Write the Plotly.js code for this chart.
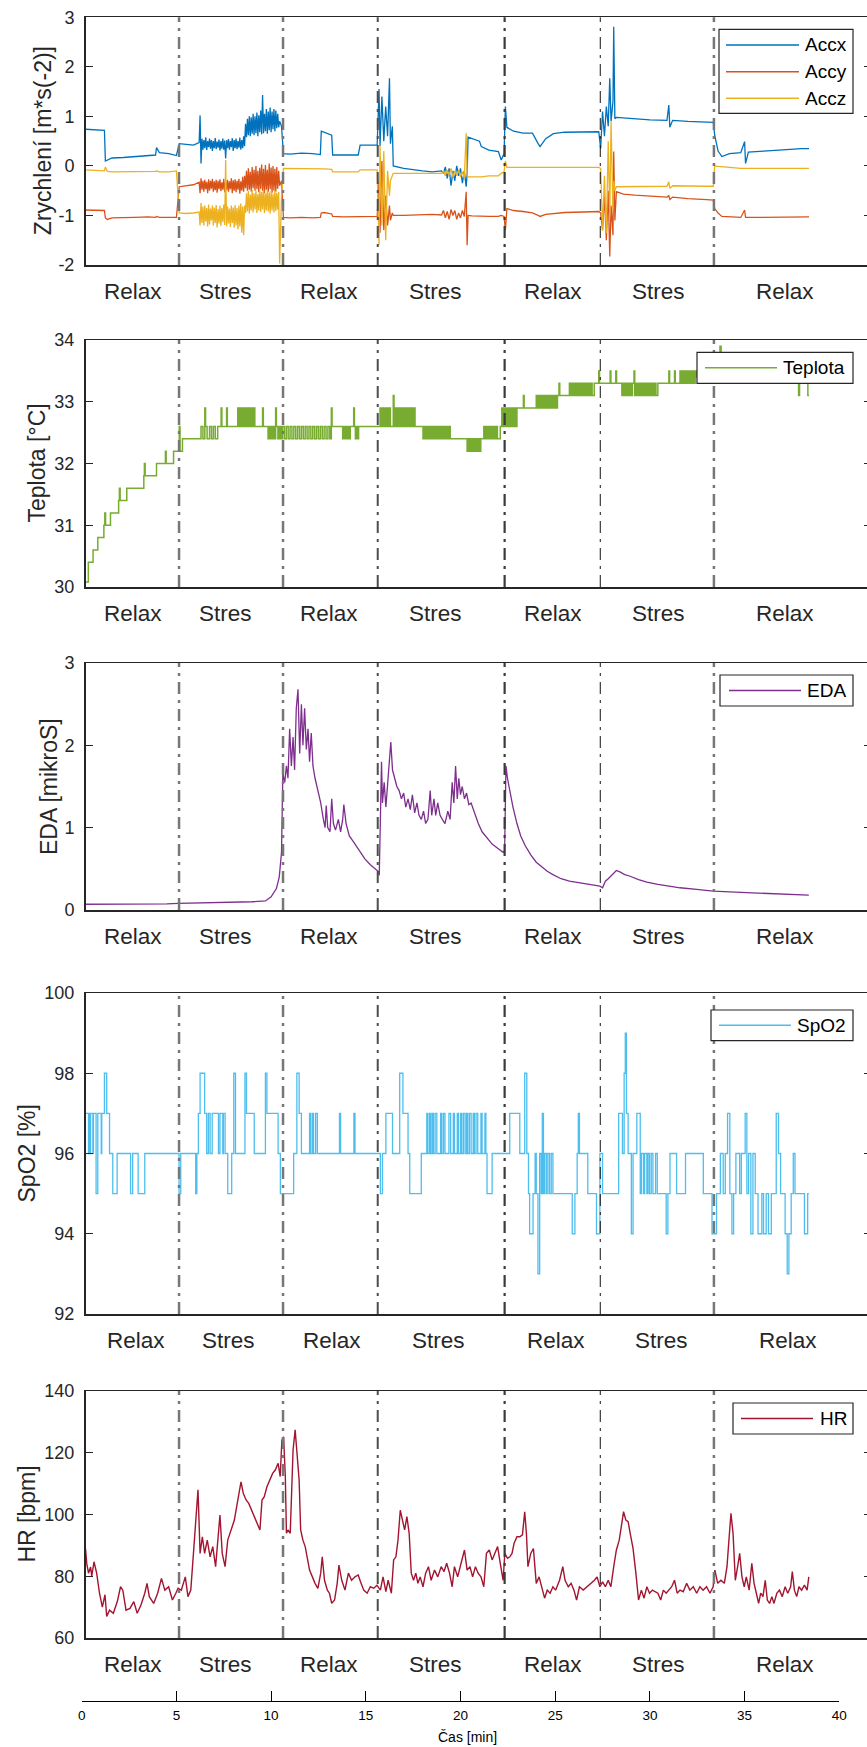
<!DOCTYPE html>
<html>
<head>
<meta charset="utf-8">
<script src="https://cdn.plot.ly/plotly-3.0.1.min.js"></script>
<style>
  html, body { margin: 0; padding: 0; background: #fff; overflow: hidden; }
  #chart { width: 872px; height: 1747px; }
</style>
</head>
<body>
<div id="chart"></div>
<script>
// ---- phase boundaries and labels (minutes) ----
const phaseLines = [5.14, 10.63, 15.63, 22.33, 27.38, 33.38];
const phaseNames = ['Relax', 'Stres', 'Relax', 'Stres', 'Relax', 'Stres', 'Relax'];
const phaseCenters = [2.72, 7.6, 13.08, 18.66, 24.9, 30.48, 37.14];

// ---- tick values ----
const accTicks = [-2, -1, 0, 1, 2, 3];
const tempTicks = [30, 31, 32, 33, 34];
const edaTicks = [0, 1, 2, 3];
const spo2Ticks = [92, 94, 96, 98, 100];
const hrTicks = [60, 80, 100, 120, 140];
const timeTicks = [0, 5, 10, 15, 20, 25, 30, 35, 40];

// ---- acceleration [m*s^-2] ----
const accT = [
  0.2, 0.6, 1.2, 1.25, 1.35, 1.6, 2.2, 2.8, 3.5, 3.9, 3.95, 4.1, 4.6, 5.0,
  5.15, 5.5, 5.9, 6.2, 6.25,
  6.30, 6.35, 6.40, 6.45, 6.50, 6.55, 6.60, 6.65, 6.70, 6.75,
  6.80, 6.85, 6.90, 6.95, 7.00, 7.05, 7.10, 7.15, 7.20, 7.25,
  7.30, 7.35, 7.40, 7.45, 7.50, 7.55, 7.60, 7.65, 7.70, 7.75,
  7.80, 7.85, 7.90, 7.95, 8.00, 8.05, 8.10, 8.15, 8.20, 8.25,
  8.30, 8.35, 8.40, 8.45, 8.50, 8.55, 8.60, 8.65, 8.70, 8.75,
  8.80, 8.85, 8.90, 8.95, 9.00, 9.05, 9.10, 9.15, 9.20, 9.25,
  9.30, 9.35, 9.40, 9.45, 9.50, 9.55, 9.60, 9.65, 9.70, 9.75,
  9.80, 9.85, 9.90, 9.95, 10.00, 10.05, 10.10, 10.15, 10.20, 10.25,
  10.30, 10.35, 10.40,
  10.45, 10.55,
  10.65, 11.0, 11.6, 12.2, 12.6, 12.65, 12.8, 13.2, 13.25, 13.8, 14.6, 14.7, 15.2, 15.6,
  15.7, 15.75, 15.85, 15.95, 16.05, 16.15, 16.25, 16.3, 16.4, 16.45, 17.0, 17.5, 18.0, 18.5, 19.0,
  19.1, 19.2, 19.3, 19.4, 19.5, 19.6, 19.7, 19.8, 19.9, 20.0, 20.1, 20.2, 20.3,
  20.35, 20.4, 20.6, 21.0, 21.1, 21.5, 22.0, 22.15, 22.3, 22.37,
  22.45, 22.8, 23.3, 23.8, 24.1, 24.2, 24.5, 24.9, 25.5, 26.5, 27.3,
  27.4, 27.5, 27.6, 27.7, 27.8, 27.88, 27.95, 28.05, 28.09, 28.15, 28.23, 28.6, 29.2, 30.0, 30.9, 31.0, 31.05, 31.2, 32.0, 33.0, 33.35,
  33.42, 33.6, 33.8, 34.2, 34.8, 35.0, 35.05, 35.2, 36.0, 37.0, 38.0, 38.4
];
const accX = [
  0.74, 0.73, 0.72, 0.10, 0.12, 0.16, 0.17, 0.19, 0.20, 0.22, 0.37, 0.27, 0.25, 0.21,
  0.45, 0.44, 0.42, 0.47, 1.02,
  0.05, 0.55, 0.33, 0.52, 0.36, 0.58, 0.32, 0.50, 0.38, 0.55,
  0.35, 0.52, 0.30, 0.50, 0.36, 0.56, 0.34, 0.49, 0.37, 0.53,
  0.31, 0.50, 0.35, 0.55, 0.33, 0.51, 0.15, 0.52, 0.36, 0.54,
  0.33, 0.50, 0.38, 0.56, 0.30, 0.52, 0.36, 0.55, 0.34, 0.50,
  0.37, 0.57, 0.33, 0.52, 0.36, 0.60, 0.40, 0.85, 0.58, 0.95,
  0.62, 1.00, 0.60, 0.98, 0.65, 1.05, 0.62, 1.00, 0.66, 1.08,
  0.60, 1.02, 0.68, 1.12, 0.64, 1.43, 0.66, 1.05, 0.70, 1.15,
  0.65, 1.10, 0.72, 1.18, 0.68, 1.10, 0.74, 1.15, 0.70, 1.12,
  0.76, 1.05, 0.78,
  0.90, 0.80,
  0.25, 0.24, 0.26, 0.25, 0.23, 0.70, 0.68, 0.62, 0.22, 0.22, 0.22, 0.42, 0.42, 0.42,
  1.55, 0.40, 1.40, 0.50, 1.20, 0.60, 1.77, 0.45, 0.80, 0.00, -0.05, -0.08, -0.10, -0.12, -0.10,
  -0.15, -0.02, -0.25, -0.05, -0.40, -0.10, -0.30, 0.00, -0.20, -0.05, -0.35, -0.10, -0.42,
  -0.15, 0.58, 0.55, 0.50, 0.39, 0.32, 0.29, 0.12, 0.25, 1.20,
  0.78, 0.70, 0.66, 0.66, 0.45, 0.39, 0.55, 0.65, 0.68, 0.69, 0.69,
  0.35, 1.10, 0.60, 1.20, 0.80, 1.77, 0.90, 1.30, 2.81, 0.95, 0.98, 0.97, 0.95, 0.93, 0.92, 1.23, 0.78, 0.92, 0.90, 0.88, 0.88,
  0.62, 0.30, 0.19, 0.25, 0.27, 0.49, 0.05, 0.28, 0.30, 0.33, 0.35, 0.35
];
const accY = [
  -0.89, -0.89, -0.90, -1.05, -1.08, -1.05, -1.05, -1.04, -1.03, -1.04, -1.02, -1.04, -1.04, -1.04,
  -0.42, -0.40, -0.38, -0.33, -0.55,
  -0.25, -0.48, -0.30, -0.52, -0.28, -0.47, -0.32, -0.55, -0.27, -0.50,
  -0.30, -0.46, -0.26, -0.52, -0.31, -0.49, -0.28, -0.54, -0.30, -0.47,
  -0.27, -0.51, -0.33, -0.48, -0.26, -0.53, -0.30, -0.49, -0.28, -0.52,
  -0.31, -0.47, -0.25, -0.55, -0.29, -0.50, -0.27, -0.53, -0.30, -0.48,
  -0.26, -0.56, -0.31, -0.50, -0.22, -0.52, -0.20, -0.45, -0.10, -0.50,
  -0.05, -0.48, -0.12, -0.52, -0.02, -0.45, -0.08, -0.50, 0.00, -0.47,
  -0.10, -0.53, -0.04, -0.46, 0.03, -0.50, -0.06, -0.55, 0.02, -0.48,
  -0.08, -0.52, 0.05, -0.47, -0.03, -0.54, 0.00, -0.50, -0.06, -0.52,
  -0.02, -0.46, -0.10,
  -0.40, -0.30,
  -1.04, -1.05, -1.04, -1.05, -1.04, -0.95, -0.94, -0.97, -1.02, -1.03, -1.03, -1.02, -1.02, -1.02,
  -0.30, -1.35, 0.10, -1.30, -0.60, -1.20, -0.80, -1.10, -0.95, -1.00, -1.00, -0.99, -0.99, -0.98, -0.99,
  -0.90, -1.05, -0.92, -1.08, -0.88, -1.00, -0.90, -1.08, -0.95, -1.05, -0.90, -1.02, -0.52,
  -1.60, -1.00, -1.01, -1.02, -1.02, -1.02, -1.02, -1.00, -1.02, -1.30,
  -0.86, -0.90, -0.92, -0.95, -1.00, -1.02, -0.98, -0.96, -0.94, -0.93, -0.92,
  -0.95, -1.30, -0.60, -1.50, -0.50, -1.83, -0.80, -1.40, 0.29, -1.10, -0.52, -0.57, -0.59, -0.61, -0.63, -0.60, -0.68, -0.63, -0.66, -0.68, -0.69,
  -0.86, -0.95, -1.02, -1.03, -1.04, -0.89, -1.04, -1.04, -1.04, -1.03, -1.03, -1.03
];
const accZ = [
  -0.08, -0.09, -0.10, -0.02, -0.11, -0.12, -0.12, -0.12, -0.12, -0.11, -0.10, -0.12, -0.12, -0.10,
  -0.95, -0.96, -0.95, -0.93, -1.20,
  -0.75, -1.15, -0.82, -1.20, -0.80, -1.12, -0.85, -1.22, -0.78, -1.18,
  -0.86, -1.10, -0.80, -1.20, -0.84, -1.15, -0.79, -1.24, -0.87, -1.16,
  -0.80, -1.21, -0.85, -1.13, -0.78, -1.19, 0.12, -1.22, -0.82, -1.16,
  -0.86, -1.23, -0.80, -1.15, -0.84, -1.25, -0.79, -1.20, -0.85, -1.28,
  -0.80, -1.22, -0.76, -1.35, -0.82, -1.40, -0.80, -0.95, -0.55, -0.92,
  -0.50, -0.96, -0.58, -0.90, -0.48, -0.94, -0.55, -0.88, -0.50, -0.95,
  -0.57, -0.90, -0.46, -0.93, -0.52, -0.88, -0.48, -0.95, -0.55, -0.90,
  -0.47, -0.92, -0.53, -0.96, -0.50, -0.90, -0.56, -0.94, -0.49, -0.91,
  -0.54, -0.88, -0.52,
  -1.97, -0.60,
  -0.05, -0.05, -0.06, -0.05, -0.05, -0.05, -0.06, -0.07, -0.12, -0.12, -0.12, -0.08, -0.08, -0.08,
  -1.60, 0.40, -1.20, 0.30, -1.50, -0.10, -0.60, -0.30, -0.20, -0.15, -0.15, -0.15, -0.16, -0.16, -0.15,
  -0.10, -0.20, -0.08, -0.18, -0.05, -0.22, -0.10, -0.20, -0.08, -0.22, -0.12, -0.25, 0.66,
  -0.20, -0.22, -0.22, -0.22, -0.22, -0.20, -0.20, -0.15, -0.12, 0.10,
  -0.03, -0.03, -0.03, -0.03, -0.03, -0.04, -0.03, -0.03, -0.03, -0.03, -0.03,
  -0.05, -1.30, -0.20, -1.36, 0.50, -1.00, 0.89, -0.90, -0.30, -0.50, -0.42, -0.42, -0.42, -0.42, -0.41, -0.32, -0.45, -0.40, -0.41, -0.41, -0.41,
  0.00, -0.01, -0.02, -0.03, -0.05, -0.05, -0.05, -0.05, -0.05, -0.05, -0.05, -0.05
];

// ---- skin temperature [°C] (stepped sensor readings) ----
const tempT = [
  0.20, 0.35, 0.60, 0.85, 1.17, 1.22, 1.26, 1.52, 1.95, 1.99, 2.03, 2.38, 3.28, 3.31, 3.35, 3.95, 4.42, 4.46, 4.85, 5.15, 5.19, 5.32,
  6.30, 6.40, 6.50, 6.54, 6.62, 6.75, 6.85, 6.95, 7.05, 7.18, 7.36, 7.40, 7.65, 7.69,
  8.24, 8.30, 8.36, 8.42, 8.48, 8.54, 8.60, 8.66, 8.72, 8.78, 8.84, 8.90, 8.96, 9.02, 9.08, 9.14, 9.55, 9.59,
  9.84, 9.92, 10.00, 10.08, 10.16, 10.24, 10.28, 10.36, 10.44, 10.52,
  10.60, 10.70, 10.80, 10.90, 11.00, 11.10, 11.20, 11.30, 11.40, 11.50, 11.60, 11.70, 11.80, 11.90, 12.00, 12.10,
  12.20, 12.30, 12.40, 12.50, 12.60, 12.70, 12.80, 12.90, 13.00, 13.10, 13.18, 13.22,
  13.78, 13.86, 13.94, 14.02, 14.10, 14.18, 14.36, 14.40, 14.45, 14.53, 14.60, 14.62,
  15.75, 15.82, 15.90, 15.98, 16.06, 16.14, 16.22, 16.30, 16.45, 16.49, 16.56, 16.64,
  16.72, 16.80, 16.88, 16.96, 17.04, 17.12, 17.20, 17.28, 17.36, 17.44, 17.52, 17.60,
  18.02, 18.10, 18.18, 18.26, 18.34, 18.42, 18.50, 18.58, 18.66, 18.74, 18.82, 18.90, 18.98, 19.06, 19.14, 19.22, 19.30, 19.38, 19.46,
  20.35, 20.43, 20.51, 20.59, 20.67, 20.75, 20.83, 20.91, 20.99, 21.07,
  21.23, 21.31, 21.39, 21.47, 21.55, 21.63, 21.71, 21.79, 21.87, 21.95,
  22.10, 22.18, 22.26, 22.34, 22.42, 22.50, 22.58, 22.66, 22.74, 22.82, 22.90, 22.98,
  23.32, 23.36, 24.00, 24.08, 24.16, 24.24, 24.32, 24.40, 24.48, 24.56, 24.64, 24.72, 24.80, 24.88, 24.96, 25.04, 25.12, 25.20, 25.24,
  25.75, 25.83, 25.91, 25.99, 26.07, 26.15, 26.23, 26.31, 26.39, 26.47, 26.55, 26.63, 26.71, 26.79, 26.87, 26.95, 27.06,
  27.30, 27.34, 27.90, 27.94, 28.20, 28.24,
  28.52, 28.60, 28.68, 28.76, 28.84, 28.92, 29.00, 29.08, 29.16, 29.20, 29.28, 29.36, 29.44,
  29.52, 29.60, 29.68, 29.76, 29.84, 29.92, 30.00, 30.08, 30.16, 30.24, 30.32, 30.42,
  31.00, 31.04, 31.30, 31.34,
  31.59, 31.67, 31.75, 31.83, 31.91, 31.99, 32.07, 32.15, 32.23, 32.31, 32.39, 32.47,
  33.70, 33.76, 37.85, 37.90, 38.34, 38.40
];
const tempV = [
  30.08, 30.40, 30.60, 30.80, 31.00, 31.20, 31.00, 31.20, 31.40, 31.60, 31.40, 31.60, 31.80, 32.00, 31.80, 32.00, 32.20, 32.00, 32.20, 32.60, 32.20, 32.40,
  32.60, 32.40, 32.90, 32.60, 32.40, 32.60, 32.40, 32.60, 32.40, 32.60, 32.90, 32.60, 32.90, 32.60,
  32.90, 32.60, 32.90, 32.60, 32.90, 32.60, 32.90, 32.60, 32.90, 32.60, 32.90, 32.60, 32.90, 32.60, 32.90, 32.60, 32.90, 32.60,
  32.40, 32.60, 32.40, 32.60, 32.40, 32.90, 32.60, 32.40, 32.60, 32.40,
  32.60, 32.40, 32.60, 32.40, 32.60, 32.40, 32.60, 32.40, 32.60, 32.40, 32.60, 32.40, 32.60, 32.40, 32.60, 32.40,
  32.60, 32.40, 32.60, 32.40, 32.60, 32.40, 32.60, 32.40, 32.60, 32.40, 32.90, 32.60,
  32.40, 32.60, 32.40, 32.60, 32.40, 32.60, 32.90, 32.60, 32.40, 32.60, 32.40, 32.60,
  32.90, 32.60, 32.90, 32.60, 32.90, 32.60, 32.90, 32.60, 33.10, 32.60, 32.90, 32.60,
  32.90, 32.60, 32.90, 32.60, 32.90, 32.60, 32.90, 32.60, 32.90, 32.60, 32.90, 32.60,
  32.40, 32.60, 32.40, 32.60, 32.40, 32.60, 32.40, 32.60, 32.40, 32.60, 32.40, 32.60, 32.40, 32.60, 32.40, 32.60, 32.40, 32.60, 32.40,
  32.20, 32.40, 32.20, 32.40, 32.20, 32.40, 32.20, 32.40, 32.20, 32.40,
  32.60, 32.40, 32.60, 32.40, 32.60, 32.40, 32.60, 32.40, 32.60, 32.40,
  32.60, 32.90, 32.60, 32.90, 32.60, 32.90, 32.60, 32.90, 32.60, 32.90, 32.60, 32.90,
  33.10, 32.90, 33.10, 32.90, 33.10, 32.90, 33.10, 32.90, 33.10, 32.90, 33.10, 32.90, 33.10, 32.90, 33.10, 32.90, 33.10, 33.30, 33.10,
  33.30, 33.10, 33.30, 33.10, 33.30, 33.10, 33.30, 33.10, 33.30, 33.10, 33.30, 33.10, 33.30, 33.10, 33.30, 33.10, 33.30,
  33.50, 33.30, 33.50, 33.30, 33.50, 33.30,
  33.10, 33.30, 33.10, 33.30, 33.10, 33.30, 33.10, 33.30, 33.50, 33.10, 33.30, 33.10, 33.30,
  33.10, 33.30, 33.10, 33.30, 33.10, 33.30, 33.10, 33.30, 33.10, 33.30, 33.10, 33.30,
  33.50, 33.30, 33.50, 33.30,
  33.50, 33.30, 33.50, 33.30, 33.50, 33.30, 33.50, 33.30, 33.50, 33.30, 33.50, 33.40,
  33.90, 33.40, 33.10, 33.40, 33.10, 33.10
];

// ---- electrodermal activity [µS] ----
const edaT = [
  0.2, 1.5, 3.0, 4.5, 5.1, 6.5, 8.0, 9.0, 9.7, 10.0, 10.28, 10.43, 10.55, 10.62,
  10.72, 10.81, 10.89, 10.98, 11.07, 11.16, 11.24, 11.33, 11.42, 11.51,
  11.60, 11.68, 11.77, 11.86, 11.95, 12.03, 12.12, 12.21, 12.32, 12.47,
  12.62, 12.76, 12.85, 12.91, 12.99, 13.11, 13.20, 13.29, 13.40, 13.55,
  13.67, 13.78, 13.84, 13.96, 14.13, 14.37, 14.66, 14.95, 15.24, 15.48, 15.65, 15.71,
  15.77, 15.83, 15.88, 15.97, 16.06, 16.15, 16.24, 16.32, 16.41, 16.53,
  16.64, 16.76, 16.88, 17.00, 17.11, 17.23, 17.35, 17.46, 17.58, 17.70,
  17.81, 17.93, 18.05, 18.16, 18.28, 18.40, 18.48, 18.60, 18.69, 18.80,
  18.92, 19.04, 19.18, 19.33, 19.45, 19.56, 19.65, 19.74, 19.83, 19.91,
  20.00, 20.09, 20.21, 20.32, 20.44, 20.56, 20.73, 20.94, 21.14, 21.37,
  21.67, 21.96, 22.25, 22.33,
  22.40, 22.48, 22.60, 22.77, 22.98, 23.18, 23.42, 23.71, 24.00, 24.29, 24.58, 24.88, 25.31, 25.75, 26.34, 26.92, 27.36,
  27.50, 27.65, 27.80, 28.03, 28.23, 28.44, 28.67, 28.96, 29.40, 29.84, 30.42, 31.01, 31.59, 32.47, 33.34,
  34.22, 35.09, 35.97, 37.14, 38.39
];
const edaV = [
  0.07, 0.07, 0.075, 0.075, 0.08, 0.085, 0.09, 0.10, 0.11, 0.16, 0.26, 0.40, 0.70, 1.66,
  1.55, 1.75, 1.6, 2.2, 1.75, 2.1, 1.7, 2.45, 2.68, 1.9,
  2.5, 2.0, 2.45, 1.95, 2.2, 1.8, 2.15, 1.75, 1.6, 1.45,
  1.3, 1.1, 1.0, 1.27, 1.0, 0.95, 1.35, 1.05, 0.97, 1.1,
  0.95, 1.1, 1.28, 1.05, 0.9, 0.82, 0.72, 0.62, 0.55, 0.5, 0.47, 0.42,
  1.0, 1.8, 1.3, 1.55, 1.25, 1.5, 1.75, 2.04, 1.7, 1.6,
  1.5, 1.45, 1.35, 1.42, 1.25, 1.35, 1.22, 1.4, 1.18, 1.3,
  1.15, 1.1, 1.2, 1.05, 1.1, 1.45, 1.15, 1.35, 1.15, 1.3,
  1.15, 1.1, 1.05, 1.2, 1.1, 1.55, 1.3, 1.75, 1.35, 1.6,
  1.4, 1.5, 1.35, 1.42, 1.28, 1.3, 1.18, 1.05, 0.95, 0.88,
  0.8, 0.75, 0.7, 0.72,
  1.75, 1.6, 1.45, 1.25, 1.05, 0.9, 0.78, 0.67, 0.58, 0.52, 0.47, 0.43, 0.38, 0.35, 0.33, 0.31, 0.29,
  0.27, 0.35, 0.38, 0.44, 0.48, 0.46, 0.43, 0.41, 0.37, 0.34, 0.31, 0.29, 0.27, 0.25, 0.23,
  0.22, 0.21, 0.2, 0.19, 0.18
];

// ---- blood oxygen saturation [%] (integer readings) ----
const spo2T = [
  0.21, 0.36, 0.39, 0.44, 0.47, 0.59, 0.62, 0.76, 0.85, 1.03,
  1.06, 1.20, 1.32, 1.47, 1.64, 1.87, 2.58, 2.69, 2.98, 3.33,
  5.14, 5.23, 6.02, 6.08, 6.16, 6.25, 6.49, 6.60, 6.69, 6.78,
  6.89, 7.22, 7.30, 7.45, 7.48, 7.57, 7.71, 7.92, 8.03, 8.12,
  8.62, 8.70, 9.11, 9.70, 9.78, 10.37, 10.49, 11.19, 11.36, 11.48,
  11.60, 12.03, 12.09, 12.18, 12.24, 12.35, 12.44, 13.61, 13.67, 14.37,
  14.43, 15.77, 15.88, 16.06, 16.41, 16.79, 16.96, 17.23, 17.32, 17.93,
  18.22, 18.28, 18.37, 18.43, 18.51, 18.57, 18.66, 18.75, 18.95, 19.01,
  19.10, 19.18, 19.39, 19.48, 19.62, 19.68, 19.83, 19.89, 20.00, 20.06,
  20.15, 20.24, 20.32, 20.38, 20.47, 20.56, 20.67, 20.73, 20.82, 20.91,
  21.08, 21.14, 21.29, 21.34, 21.40, 21.67, 22.60, 23.13, 23.39, 23.50,
  23.59, 23.65, 23.83, 23.94, 24.00, 24.09, 24.18, 24.26, 24.32, 24.38,
  24.44, 24.53, 24.61, 24.70, 24.79, 24.88, 25.90, 26.04, 26.16, 26.22,
  26.28, 26.72, 27.18, 27.36, 27.50, 28.35, 28.55, 28.64, 28.70, 28.76,
  28.85, 29.02, 29.11, 29.31, 29.49, 29.55, 29.66, 29.72, 29.84, 29.90,
  29.98, 30.07, 30.16, 30.30, 30.39, 30.86, 30.95, 31.06, 31.41, 31.88,
  32.82, 33.28, 33.52, 33.72, 33.87, 33.98, 34.10, 34.22, 34.33, 34.42,
  34.54, 34.74, 34.83, 35.03, 35.12, 35.21, 35.33, 35.44, 35.56, 35.71,
  35.91, 36.00, 36.14, 36.26, 36.41, 36.67, 36.79, 36.90, 37.14, 37.25,
  37.34, 37.46, 37.57, 37.66, 38.16, 38.33, 38.39
];
const spo2V = [
  97, 96, 97, 96, 97, 96, 97, 95, 97, 96,
  97, 98, 97, 96, 95, 96, 95, 96, 95, 96,
  95, 96, 95, 96, 97, 98, 97, 96, 97, 96,
  97, 96, 97, 96, 97, 96, 95, 96, 98, 96,
  98, 97, 96, 98, 97, 96, 95, 96, 98, 97,
  96, 97, 96, 97, 96, 97, 96, 97, 96, 97,
  96, 95, 96, 97, 96, 98, 97, 96, 95, 96,
  97, 96, 97, 96, 97, 96, 97, 96, 97, 96,
  97, 96, 97, 96, 97, 96, 97, 96, 97, 96,
  97, 96, 97, 96, 97, 96, 97, 96, 97, 96,
  97, 96, 97, 96, 95, 96, 97, 96, 98, 96,
  95, 94, 95, 96, 95, 93, 96, 95, 97, 95,
  96, 95, 96, 95, 96, 95, 94, 95, 96, 97,
  96, 95, 94, 96, 95, 97, 96, 98, 99, 97,
  96, 94, 96, 97, 95, 96, 95, 96, 95, 96,
  95, 96, 95, 96, 95, 94, 95, 96, 95, 96,
  95, 94, 95, 96, 95, 96, 97, 95, 94, 95,
  96, 95, 96, 97, 95, 96, 94, 96, 95, 94,
  95, 94, 95, 94, 95, 97, 96, 95, 94, 93,
  94, 95, 96, 95, 94, 95, 95
];

// ---- heart rate [bpm] ----
const hrT = [
  0.20, 0.27, 0.36, 0.47, 0.53, 0.65, 0.79, 0.94, 1.09, 1.23,
  1.32, 1.47, 1.67, 1.88, 2.05, 2.17, 2.34, 2.55, 2.75, 2.93,
  3.13, 3.33, 3.45, 3.57, 3.80, 4.01, 4.21, 4.39, 4.59, 4.79,
  4.97, 5.09, 5.26, 5.47, 5.61, 5.76, 5.90, 6.05, 6.14, 6.25,
  6.37, 6.49, 6.63, 6.78, 6.92, 7.07, 7.22, 7.30, 7.42, 7.57,
  7.71, 7.89, 8.06, 8.18, 8.30, 8.41, 8.53, 8.68, 8.82, 8.97,
  9.11, 9.26, 9.41, 9.52, 9.64, 9.78, 9.93, 10.08, 10.22, 10.37,
  10.48, 10.57, 10.66, 10.75, 10.81, 10.89, 11.01, 11.16, 11.27, 11.36,
  11.48, 11.56, 11.68, 11.80, 11.91, 12.03, 12.18, 12.32, 12.47, 12.62,
  12.70, 12.82, 12.97, 13.08, 13.20, 13.35, 13.49, 13.58, 13.73, 13.90,
  14.08, 14.25, 14.43, 14.60, 14.72, 14.89, 15.07, 15.24, 15.42, 15.59,
  15.77, 15.91, 16.06, 16.18, 16.35, 16.47, 16.59, 16.70, 16.82, 16.94,
  17.05, 17.17, 17.29, 17.40, 17.52, 17.64, 17.75, 17.87, 18.02, 18.16,
  18.31, 18.45, 18.63, 18.80, 18.98, 19.13, 19.27, 19.42, 19.56, 19.68,
  19.85, 20.03, 20.21, 20.35, 20.50, 20.64, 20.79, 20.93, 21.08, 21.23,
  21.37, 21.52, 21.67, 21.81, 21.96, 22.10, 22.25, 22.34, 22.48, 22.60,
  22.72, 22.83, 22.98, 23.13, 23.27, 23.39, 23.48, 23.56, 23.71, 23.85,
  24.00, 24.15, 24.29, 24.44, 24.58, 24.73, 24.88, 25.02, 25.23, 25.40,
  25.52, 25.69, 25.84, 25.99, 26.13, 26.28, 26.48, 26.69, 26.86, 27.07,
  27.21, 27.36, 27.50, 27.65, 27.80, 27.94, 28.09, 28.23, 28.38, 28.50,
  28.61, 28.73, 28.85, 28.96, 29.11, 29.26, 29.40, 29.55, 29.69, 29.84,
  29.98, 30.13, 30.28, 30.42, 30.57, 30.71, 30.86, 31.01, 31.15, 31.30,
  31.44, 31.59, 31.76, 31.94, 32.11, 32.29, 32.47, 32.64, 32.81, 32.99,
  33.17, 33.34, 33.43, 33.58, 33.75, 33.93, 34.07, 34.16, 34.28, 34.39,
  34.51, 34.66, 34.74, 34.86, 34.98, 35.09, 35.24, 35.38, 35.50, 35.62,
  35.74, 35.85, 35.97, 36.09, 36.20, 36.32, 36.44, 36.55, 36.70, 36.84,
  36.99, 37.14, 37.28, 37.43, 37.52, 37.63, 37.75, 37.87, 38.01, 38.16,
  38.30, 38.39
];
const hrV = [
  89, 84, 81, 83, 80, 84.7, 81, 74.5, 70, 74,
  67, 69, 68, 71.8, 76.6, 75.5, 69, 69.6, 71.8, 68,
  70.7, 74.5, 77.7, 73.4, 71.2, 74.5, 79.3, 75.5, 76.6, 72.3,
  74.5, 76.1, 75.5, 79.8, 73.4, 75.5, 87.4, 100.4, 108, 87.4,
  92.8, 87.4, 91.7, 86.3, 89.6, 83.1, 93.9, 99.8, 87.4, 83.1,
  91.7, 95, 98.2, 102.5, 106.9, 110.6, 106.9, 104.7, 103.6, 101.4,
  99.3, 97.1, 95, 104.7, 105.8, 109, 111.2, 113.3, 114.4, 116.6,
  112.3, 124.1, 125.2, 112.3, 93.9, 95, 93.9, 120.9, 127.4, 120.9,
  111.2, 95, 91.7, 89.6, 86.3, 82, 79.8, 77.7, 76.1, 81,
  86.3, 78.7, 75.5, 74.5, 71.2, 72.3, 77.7, 83.6, 78.7, 75.5,
  81, 78.7, 79.8, 80.4, 78.2, 75.5, 74.5, 76.6, 76.1, 77.1,
  75.5, 79.8, 75, 78.7, 74.5, 85.3, 86.3, 91.7, 101.4, 98.2,
  95, 99.3, 93.9, 81, 78.7, 81, 77.7, 79.8, 76.6, 81,
  83.1, 78.7, 82, 79.8, 83.1, 81.5, 84.2, 81, 76.6, 83.1,
  79.8, 84.2, 88.5, 82, 83.1, 79.8, 83.1, 81, 79.8, 76.6,
  87.4, 88.5, 85.3, 87.4, 89.6, 84.2, 78.7, 87.4, 85.8, 86.3,
  87.4, 90.7, 92.8, 92.8, 93.4, 100.9, 93.9, 83.1, 87.4, 89,
  77.7, 79.8, 76.6, 72.9, 75.5, 74.5, 76.6, 75.5, 78.7, 83.1,
  78.7, 76.6, 77.7, 75.5, 72.3, 76.6, 75.5, 76.6, 77.7, 78.7,
  79.8, 76.6, 78.2, 76.6, 78.7, 76.6, 83.1, 88.5, 91.7, 96,
  100.9, 98.2, 97.7, 93.9, 89, 81, 72.3, 75.5, 72.9, 76.6,
  74.5, 75.5, 75, 74.5, 72.3, 75.5, 74.5, 75.5, 76.6, 78.7,
  74.5, 75.5, 75, 77.7, 75.5, 76.6, 74.5, 76.6, 75.5, 76.6,
  74.5, 76.6, 82, 77.7, 78.7, 77.7, 83.1, 90.7, 100.4, 93.9,
  78.7, 84.2, 87.4, 79.8, 76.6, 79.8, 75.5, 84.2, 77.7, 74.5,
  71.2, 74.5, 73.4, 78.7, 72.3, 71.2, 73.4, 71.2, 74.5, 75.5,
  73.4, 76.6, 74.5, 76.6, 81.5, 75.5, 73.4, 76.6, 75.5, 77.1,
  75.5, 79.8
];

// ---- figure geometry (pixels) ----
const W = 872, H = 1747;
const FONT = '"Liberation Sans", Arial, Helvetica, sans-serif';
const AX = '#262626';
const px = v => v / W;
const py = v => 1 - v / H;
const plotLeft = 85.5, plotRight = 871;
const pxPerMin = 18.94, axisZeroPx = 81.7;
const xRange = [(plotLeft - axisZeroPx) / pxPerMin, (plotRight - axisZeroPx) / pxPerMin];

const panels = [
  { top: 17.3, bottom: 265, range: [-2, 3], ticks: accTicks, title: 'Zrychlení [m*s(-2)]', titleX: 43, labelShift: 0,
    legend: { left: 719, top: 29.3, bottom: 113.3, lineX: [726, 799], textX: 803, rowY: [45, 71.7, 98.3] } },
  { top: 340, bottom: 587, range: [30, 34], ticks: tempTicks, title: 'Teplota [°C]', titleX: 36, labelShift: 0,
    legend: { left: 697, top: 352.3, bottom: 383.3, lineX: [705, 777], textX: 781, rowY: [367.8] } },
  { top: 663, bottom: 910, range: [0, 3], ticks: edaTicks, title: 'EDA [mikroS]', titleX: 49.5, labelShift: 0,
    legend: { left: 720, top: 675, bottom: 706, lineX: [729, 801], textX: 804.5, rowY: [690.5] } },
  { top: 993, bottom: 1314, range: [92, 100], ticks: spo2Ticks, title: 'SpO2 [%]', titleX: 26, labelShift: 3,
    legend: { left: 711, top: 1010, bottom: 1040.7, lineX: [719, 791], textX: 795, rowY: [1025.3] } },
  { top: 1391, bottom: 1638, range: [60, 140], ticks: hrTicks, title: 'HR [bpm]', titleX: 26, labelShift: 0,
    legend: { left: 733, top: 1403, bottom: 1434, lineX: [741, 813], textX: 818, rowY: [1418.5] } }
];
const legendRight = 853;

// dash-dot separators between phases
const sepStyle = [
  { width: 2.5, color: '#777777' },
  { width: 2.5, color: '#777777' },
  { width: 2, color: '#4d4d4d' },
  { width: 2.2, color: '#3a3a3a' },
  { width: 1, color: '#111111' },
  { width: 2.5, color: '#777777' }
];

// series per panel
const series = [
  [ { x: accT, y: accX, name: 'Accx', color: '#0072BD' },
    { x: accT, y: accY, name: 'Accy', color: '#D95319' },
    { x: accT, y: accZ, name: 'Accz', color: '#EDB120' } ],
  [ { x: tempT, y: tempV, name: 'Teplota', color: '#77AC30', shape: 'hv', width: 1.5 } ],
  [ { x: edaT, y: edaV, name: 'EDA', color: '#7E2F8E' } ],
  [ { x: spo2T, y: spo2V, name: 'SpO2', color: '#4DBEEE', shape: 'hv' } ],
  [ { x: hrT, y: hrV, name: 'HR', color: '#A2142F', width: 1.4 } ]
];

const layout = {
  width: W, height: H,
  margin: { l: 0, r: 0, t: 0, b: 0, pad: 0 },
  paper_bgcolor: '#fff', plot_bgcolor: '#fff',
  font: { family: FONT, color: AX },
  showlegend: false,
  shapes: [], annotations: []
};
const traces = [];
const legendShapes = [];

panels.forEach((p, i) => {
  const n = i + 1;
  const xk = n === 1 ? 'xaxis' : 'xaxis' + n;
  const yk = n === 1 ? 'yaxis' : 'yaxis' + n;
  const xr = n === 1 ? 'x' : 'x' + n;
  const yr = n === 1 ? 'y' : 'y' + n;
  layout[xk] = {
    domain: [px(plotLeft), px(plotRight)], range: xRange, anchor: yr,
    showline: true, mirror: true, linecolor: AX, linewidth: 1.5,
    ticks: '', showticklabels: false, showgrid: false, zeroline: false, fixedrange: true
  };
  layout[yk] = {
    domain: [py(p.bottom), py(p.top)], range: p.range, anchor: xr,
    tickvals: p.ticks, ticktext: p.ticks.map(String),
    ticks: 'inside', ticklen: 7, tickwidth: 1, tickcolor: AX,
    showline: true, mirror: 'ticks', linecolor: AX, linewidth: 1.5,
    showgrid: false, zeroline: false, fixedrange: true,
    tickfont: { family: FONT, size: 18, color: AX },
    ticklabelstandoff: 6
  };

  series[i].forEach(s => {
    traces.push({
      type: 'scatter', mode: 'lines', x: s.x, y: s.y, name: s.name,
      xaxis: xr, yaxis: yr, hoverinfo: 'skip',
      line: { color: s.color, width: s.width || 1.3, shape: s.shape || 'linear' }
    });
  });

  phaseLines.forEach((t, k) => {
    layout.shapes.push({
      type: 'line', xref: xr, yref: yr + ' domain',
      x0: t, x1: t, y0: 0, y1: 1, layer: 'above',
      line: { color: sepStyle[k].color, width: sepStyle[k].width, dash: '12px,6px,3px,6px' }
    });
  });

  phaseNames.forEach((name, k) => {
    layout.annotations.push({
      xref: 'paper', yref: 'paper',
      x: px(axisZeroPx + phaseCenters[k] * pxPerMin + p.labelShift), y: py(p.bottom + 26.5),
      xanchor: 'center', yanchor: 'middle', showarrow: false,
      text: name, font: { family: FONT, size: 22.5, color: AX }
    });
  });

  layout.annotations.push({
    xref: 'paper', yref: 'paper',
    x: px(p.titleX), y: py((p.top + p.bottom) / 2),
    xanchor: 'center', yanchor: 'middle', showarrow: false, textangle: -90,
    text: p.title, font: { family: FONT, size: 23, color: AX }
  });

  // boxed legend in the upper-right corner of the panel
  const L = p.legend;
  legendShapes.push({
    type: 'rect', xref: 'paper', yref: 'paper', layer: 'above',
    x0: px(L.left), x1: px(legendRight), y0: py(L.bottom), y1: py(L.top),
    fillcolor: '#ffffff', line: { color: AX, width: 1.2 }
  });
  series[i].forEach((s, k) => {
    legendShapes.push({
      type: 'line', xref: 'paper', yref: 'paper', layer: 'above',
      x0: px(L.lineX[0]), x1: px(L.lineX[1]), y0: py(L.rowY[k]), y1: py(L.rowY[k]),
      line: { color: s.color, width: 1.6 }
    });
    layout.annotations.push({
      xref: 'paper', yref: 'paper', x: px(L.textX), y: py(L.rowY[k]),
      xanchor: 'left', yanchor: 'middle', showarrow: false,
      text: s.name, font: { family: FONT, size: 19, color: '#000' }
    });
  });
});
layout.shapes = layout.shapes.concat(legendShapes);

// shared time axis under the panels
layout.xaxis6 = {
  domain: [px(axisZeroPx), px(axisZeroPx + 40 * pxPerMin)], range: [0, 40], anchor: 'y6',
  tickvals: timeTicks, ticktext: timeTicks.map(String),
  ticks: 'inside', ticklen: 10, tickwidth: 1, tickcolor: '#000',
  showline: true, linecolor: '#000', linewidth: 1,
  showgrid: false, zeroline: false, fixedrange: true,
  tickfont: { family: FONT, size: 13.5, color: '#000' }, ticklabelstandoff: 2
};
layout.yaxis6 = { domain: [py(1701), py(1688)], range: [0, 1], anchor: 'x6', visible: false, fixedrange: true };
traces.push({ type: 'scatter', mode: 'lines', x: [], y: [], xaxis: 'x6', yaxis: 'y6', hoverinfo: 'skip', showlegend: false });
layout.annotations.push({
  xref: 'paper', yref: 'paper', x: px(467), y: py(1737),
  xanchor: 'center', yanchor: 'middle', showarrow: false,
  text: 'Čas [min]', font: { family: FONT, size: 14, color: '#000' }
});

Plotly.newPlot('chart', traces, layout, { staticPlot: true, displayModeBar: false });
</script>
</body>
</html>
